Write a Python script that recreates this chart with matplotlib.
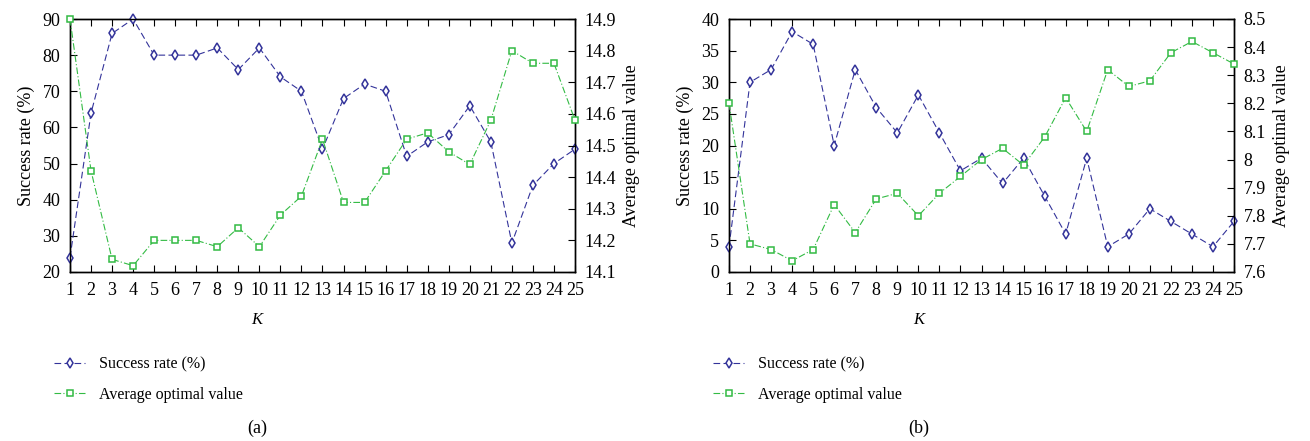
import numpy as np
import matplotlib
matplotlib.use("Agg")
from matplotlib import pyplot as plt

plt.rcParams.update({'font.family': ['Liberation Serif', 'DejaVu Serif'], 'font.size': 11})

K = np.arange(1, 26)

# panel (a)
success_a = [24, 64, 86, 90, 80, 80, 80, 82, 76, 82, 74, 70, 54, 68, 72, 70, 52, 56, 58, 66, 56, 28, 44, 50, 54]
avg_a = [14.9, 14.42, 14.14, 14.12, 14.2, 14.2, 14.2, 14.18, 14.24, 14.18, 14.28, 14.34, 14.52,
         14.32, 14.32, 14.42, 14.52, 14.54, 14.48, 14.44, 14.58, 14.8, 14.76, 14.76, 14.58]

# panel (b)
success_b = [4, 30, 32, 38, 36, 20, 32, 26, 22, 28, 22, 16, 18, 14, 18, 12, 6, 18, 4, 6, 10, 8, 6, 4, 8]
avg_b = [8.2, 7.7, 7.68, 7.64, 7.68, 7.84, 7.74, 7.86, 7.88, 7.80, 7.88, 7.94, 8.0,
         8.04, 7.98, 8.08, 8.22, 8.10, 8.32, 8.26, 8.28, 8.38, 8.42, 8.38, 8.34]

BLUE = "#33339a"
GREEN = "#33bb44"
W, H = 1310, 441


def PlotPanel(fig, rect, success, avg, ylim_l, yticks_l, ylim_r, yticks_r, tag, k_x):
    ax = fig.add_axes(rect)
    ax2 = ax.twinx()
    ax.plot(K, success, color=BLUE, linestyle=(0, (6, 3)), linewidth=0.8,
            marker="d", markersize=5.5, markerfacecolor="white", markeredgecolor=BLUE,
            markeredgewidth=1.1, label="Success rate (%)", zorder=3, clip_on=False)
    ax2.plot(K, avg, color=GREEN, linestyle=(0, (6, 2, 1, 2)), linewidth=0.8,
             marker="s", markersize=4, markerfacecolor="white", markeredgecolor=GREEN,
             markeredgewidth=1.1, label="Average optimal value", zorder=3, clip_on=False)
    ax.set_xlim(1, 25)
    ax.set_xticks(K)
    ax.set_ylim(*ylim_l)
    ax.set_yticks(yticks_l)
    ax2.set_ylim(*ylim_r)
    ax2.set_yticks(yticks_r)
    ax2.set_yticklabels([("%g" % v) for v in yticks_r])
    ax.tick_params(axis="x", direction="in", top=True, length=5, pad=7, labelsize=13)
    ax.tick_params(axis="y", direction="in", length=5, pad=7, labelsize=13)
    ax2.tick_params(axis="y", direction="in", length=5, pad=7, labelsize=13)
    for a in (ax, ax2):
        for s in a.spines.values():
            s.set_linewidth(1.0)
    ax.set_ylabel("Success rate (%)", fontsize=13, labelpad=5)
    ax2.set_ylabel("Average optimal value", fontsize=13, labelpad=5)
    fig.text(k_x / W, 1 - 320 / H, "K", style="italic", ha="center", va="center", fontsize=12)
    fig.text(k_x / W, 1 - 428 / H, tag, ha="center", va="center", fontsize=13)
    h1, l1 = ax.get_legend_handles_labels()
    h2, l2 = ax2.get_legend_handles_labels()
    fig.legend(h1 + h2, l1 + l2, loc="upper left",
               bbox_to_anchor=((rect[0] * W - 30) / W, 1 - 342 / H),
               frameon=False, fontsize=11.5, handlelength=1.9, handletextpad=0.9,
               labelspacing=0.9)
    return ax, ax2


fig = plt.figure(figsize=(W / 100, H / 100), dpi=100)
PlotPanel(fig, [70 / W, 1 - 272 / H, 505 / W, 253 / H], success_a, avg_a,
          (20, 90), range(20, 91, 10), (14.1, 14.9), np.round(np.arange(14.1, 14.91, 0.1), 1),
          "(a)", 257)
PlotPanel(fig, [729 / W, 1 - 272 / H, 505 / W, 253 / H], success_b, avg_b,
          (0, 40), range(0, 41, 5), (7.6, 8.5), np.round(np.arange(7.6, 8.51, 0.1), 1),
          "(b)", 919)
fig.savefig("out.png", dpi=100)
